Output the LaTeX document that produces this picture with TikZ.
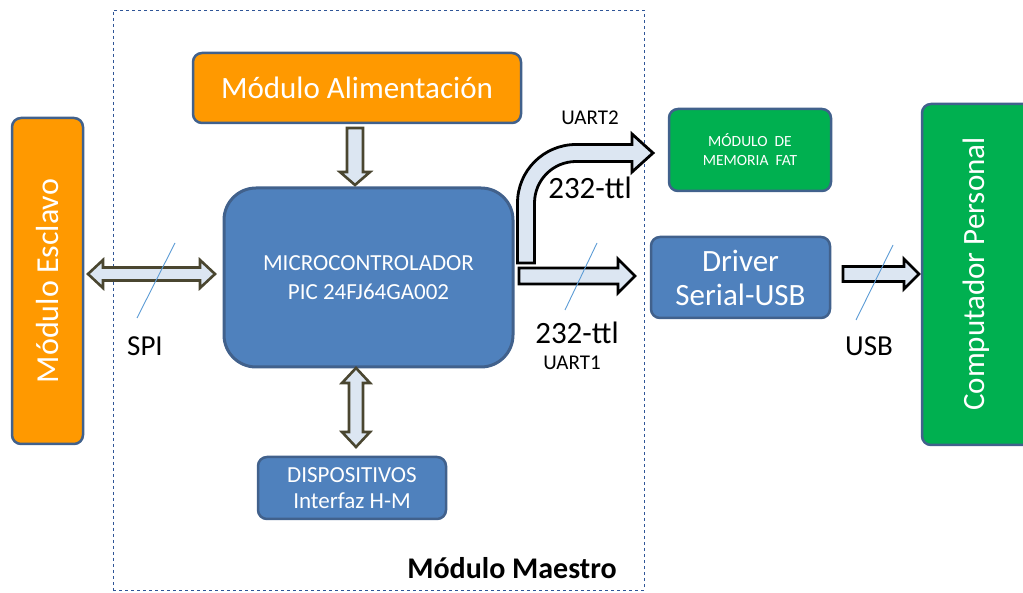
\documentclass[tikz,border=0pt]{standalone}
\usepackage{fontspec}
\setmainfont{Carlito}
\begin{document}
\begin{tikzpicture}[x=1pt,y=1pt,
  box/.style={draw=boxborder,line width=2.5pt,rounded corners=9pt,text=white,align=center,inner sep=0pt},
  bluebox/.style={box,fill=boxblue},
  orangebox/.style={box,fill=boxorange},
  greenbox/.style={box,fill=boxgreen},
  oarrow/.style={draw=olive,fill=arrowfill,line width=2.6pt,line join=miter},
  karrow/.style={draw=black,fill=arrowfill,line width=2.8pt,line join=miter},
  slash/.style={draw=slashblue,line width=0.9pt},
  lbl/.style={text=black,inner sep=0pt}]
\definecolor{boxborder}{HTML}{41618C}
\definecolor{boxblue}{HTML}{4F81BD}
\definecolor{boxorange}{HTML}{FF9900}
\definecolor{boxgreen}{HTML}{00B050}
\definecolor{olive}{HTML}{4A4630}
\definecolor{arrowfill}{HTML}{DCE6F2}
\definecolor{slashblue}{HTML}{5B9BD5}
\definecolor{framecol}{HTML}{2F5597}
\useasboundingbox (0,0) rectangle (1023,592);
% frame
\node[draw=framecol,dashed,line width=0.8pt,minimum width=531pt,minimum height=580pt,inner sep=0pt] (frame) at (378.5,292) {};
% boxes
\node[orangebox,minimum width=328pt,minimum height=70pt,font=\fontsize{31}{36}\selectfont] (alim) at (357,504) {Módulo Alimentación};
\node[bluebox,rounded corners=32pt,line width=3pt,minimum width=289pt,minimum height=179pt,font=\fontsize{23}{29}\selectfont] (micro) at (368.5,314.5) {MICROCONTROLADOR\\PIC 24FJ64GA002};
\node[orangebox,minimum width=71pt,minimum height=326pt] (esclavo) at (47.5,311) {};
\node[text=white,rotate=90,font=\fontsize{32}{36}\selectfont] (esclavotxt) at (esclavo.center) {Módulo Esclavo};
\node[bluebox,minimum width=188pt,minimum height=62pt,font=\fontsize{23}{26}\selectfont] (disp) at (352,104) {DISPOSITIVOS\\Interfaz H-M};
\node[greenbox,minimum width=162pt,minimum height=82pt,font=\fontsize{15.5}{19}\selectfont] (mem) at (750,442) {MÓDULO~~DE\\MEMORIA~~FAT};
\node[bluebox,minimum width=179pt,minimum height=81pt,font=\fontsize{31}{34}\selectfont] (driver) at (740.5,314.5) {Driver\\Serial-USB};
\node[greenbox,minimum width=110pt,minimum height=341pt] (pc) at (977,317.5) {};
\node[text=white,rotate=90,font=\fontsize{31}{36}\selectfont] (pctxt) at (976,318) {Computador Personal};
% arrows
\draw[oarrow] (347,464)--(363,464)--(363,420)--(370,420)--(355,407)--(340,420)--(347,420)--cycle;
\draw[oarrow] (88,318)--(103,332)--(103,324.5)--(200,324.5)--(200,332)--(215,318)--(200,304)--(200,311.5)--(103,311.5)--(103,304)--cycle;
\draw[oarrow] (356,224)--(342,209)--(349,209)--(349,160)--(342,160)--(356,145)--(370,160)--(363,160)--(363,209)--(370,209)--cycle;
\draw[karrow] (519,324)--(618,324)--(618,333)--(635,316)--(618,299)--(618,308)--(519,308)--cycle;
\draw[karrow] (843,325.5)--(904,325.5)--(904,333)--(919,318)--(904,303)--(904,310.5)--(843,310.5)--cycle;
\draw[karrow] (517.5,329) -- (517.5,389) arc[start angle=180,end angle=90,radius=58.5] -- (632,447.5) -- (632,458) -- (653,439) -- (632,420) -- (632,430.5) -- (576,430.5) arc[start angle=90,end angle=180,radius=41.5] -- (534.5,329) -- cycle;
% slashes
\draw[slash] (175,349) -- (137,274);
\draw[slash] (597,349) -- (565,282);
\draw[slash] (893,347) -- (856,272);
% labels
\node[lbl,font=\fontsize{29}{32}\selectfont] (spi) at (145,246) {SPI};
\node[lbl,font=\fontsize{29}{32}\selectfont] (usb) at (869,246) {USB};
\node[lbl,font=\fontsize{31}{34}\selectfont] (ttl1) at (577,259) {232-ttl};
\node[lbl,font=\fontsize{21}{24}\selectfont] (uart1) at (572,229) {UART1};
\node[lbl,font=\fontsize{21}{24}\selectfont] (uart2) at (590,474) {UART2};
\node[lbl,font=\fontsize{31}{34}\selectfont] (ttl2) at (590,404) {232-ttl};
\node[lbl,font=\fontsize{30}{32}\selectfont\bfseries] (maestro) at (512,24) {Módulo Maestro};
\end{tikzpicture}
\end{document}
